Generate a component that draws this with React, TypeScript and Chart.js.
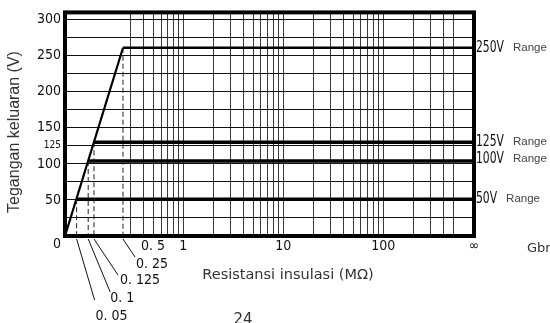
import React, { useEffect, useRef } from 'react';
import { Chart, registerables, LinearScale } from 'chart.js';

// ---------------- data ----------------
const yGridValues = [0, 25, 50, 75, 100, 125, 150, 175, 200, 225, 250, 275, 300];
const yTickLabels = [0, 50, 100, 125, 150, 200, 250, 300];
const yMax = 310;

const xGridValues = [
  0.3, 0.4, 0.5, 0.6, 0.7, 0.8, 0.9,
  1, 2, 3, 4, 5, 6, 7, 8, 9,
  10, 20, 30, 40, 50, 60, 70, 80, 90,
  100, 200, 300, 400, 500,
];
const xInfinity = 810; // right edge, labelled "∞"
const xTickValues = [0.5, 1, 10, 100, xInfinity];
const xTickLabels = ['0. 5', '1', '10', '100', '∞'];

const rangeNames = ['250V', '125V', '100V', '50V'];
const rangeVoltages = [261, 130, 104, 51];
const rangeKnees = [0.25, 0.125, 0.1, 0.05];
const kneeLabels = ['0. 25', '0. 125', '0. 1', '0. 05'];

const rampR = [0, 0.25];
const rampV = [0, 261];

// scale: linear from 0 to 0.25 MΩ, logarithmic beyond
const LINEAR_END = 0.25;
const LINEAR_SLOPE = 2.32; // decades per MΩ in the linear part

const U0 = Math.log10(LINEAR_END) - LINEAR_END * LINEAR_SLOPE;
const toU = (r: number) => (r <= LINEAR_END ? U0 + r * LINEAR_SLOPE : Math.log10(r));
const fromU = (u: number) => {
  const uJoin = Math.log10(LINEAR_END);
  return u <= uJoin ? (u - U0) / LINEAR_SLOPE : Math.pow(10, u);
};

class HybridScale extends LinearScale {
  static id = 'hybrid';
  static defaults = LinearScale.defaults;
  _hu0 = 0;
  _hu1 = 1;
  buildTicks() {
    return xGridValues.concat([xInfinity]).map((v) => ({ value: v }));
  }
  configure() {
    super.configure();
    this._hu0 = toU(this.min);
    this._hu1 = toU(this.max);
  }
  getPixelForValue(value: number) {
    if (value === null || value === undefined || isNaN(value)) return NaN;
    return this.getPixelForDecimal((toU(value) - this._hu0) / (this._hu1 - this._hu0));
  }
  getValueForPixel(pixel: number) {
    return fromU(this._hu0 + this.getDecimalForPixel(pixel) * (this._hu1 - this._hu0));
  }
}

Chart.register(...registerables, HybridScale);

// ---------------- styles ----------------
const NARROW = '"Liberation Sans Narrow", "DejaVu Sans Condensed", "Liberation Sans", sans-serif';
const SANS = '"Liberation Sans", Arial, sans-serif';
const WIDE = '"DejaVu Sans", "Noto Sans", sans-serif';

// leader line geometry (relative to tick pixel / chart bottom)
const leaderEnd = [
  { dx: 12, dy: 21 },
  { dx: 24, dy: 39 },
  { dx: 22, dy: 56 },
  { dx: 18, dy: 64 },
];
const leaderText = [
  { dx: 13, dy: 28 },
  { dx: 26, dy: 44 },
  { dx: 22, dy: 62 },
  { dx: 19, dy: 80 },
];

const decorPlugin = {
  id: 'decor',
  afterDatasetsDraw(chart: any) {
    const { ctx, chartArea: a } = chart;
    ctx.save();
    ctx.strokeStyle = '#000';
    ctx.lineWidth = 4;
    ctx.strokeRect(a.left, a.top, a.right - a.left, a.bottom - a.top);
    ctx.restore();
  },
  afterDraw(chart: any) {
    const { ctx, chartArea: a } = chart;
    const xs = chart.scales.x;
    const ys = chart.scales.y;
    ctx.save();

    // leader lines + knee labels
    ctx.strokeStyle = '#111';
    ctx.lineWidth = 1;
    ctx.fillStyle = '#111';
    ctx.font = `14px ${NARROW}`;
    ctx.textAlign = 'left';
    ctx.textBaseline = 'middle';
    rangeKnees.forEach((r, i) => {
      const px = xs.getPixelForValue(r);
      ctx.beginPath();
      ctx.moveTo(px, a.bottom + 3);
      ctx.lineTo(px + leaderEnd[i].dx, a.bottom + leaderEnd[i].dy);
      ctx.stroke();
      ctx.fillText(kneeLabels[i], px + leaderText[i].dx, a.bottom + leaderText[i].dy);
    });

    // range labels on the right
    rangeNames.forEach((name, i) => {
      const py = ys.getPixelForValue(rangeVoltages[i]) - (i === 2 ? 2 : 0);
      const x0 = a.right + 2;
      ctx.save();
      ctx.translate(x0, py);
      ctx.scale(0.8, 1);
      ctx.font = `15px ${NARROW}`;
      ctx.fillStyle = '#111';
      ctx.textBaseline = 'middle';
      ctx.textAlign = 'left';
      ctx.fillText(name, 0, 0);
      const w = ctx.measureText(name).width * 0.8;
      ctx.restore();
      ctx.font = `11.5px ${SANS}`;
      ctx.fillStyle = '#444';
      ctx.textBaseline = 'middle';
      ctx.textAlign = 'left';
      ctx.fillText('Range', x0 + w + 9, py);
    });

    // y axis title
    ctx.save();
    ctx.translate(15, 132);
    ctx.rotate(-Math.PI / 2);
    ctx.font = `16px ${SANS}`;
    ctx.fillStyle = '#333';
    ctx.textAlign = 'center';
    ctx.textBaseline = 'middle';
    ctx.fillText('Tegangan keluaran (V)', 0, 0);
    ctx.restore();

    // x axis title
    ctx.font = `14.5px ${WIDE}`;
    ctx.fillStyle = '#333';
    ctx.textAlign = 'center';
    ctx.textBaseline = 'middle';
    ctx.fillText('Resistansi insulasi (MΩ)', 288, 275);

    // page bits
    ctx.font = `13px ${WIDE}`;
    ctx.textAlign = 'left';
    ctx.fillText('Gbr', 527, 249);
    ctx.font = `15px ${WIDE}`;
    ctx.textAlign = 'center';
    ctx.fillText('24', 243, 320);

    ctx.restore();
  },
};

export default function App() {
  const canvasRef = useRef<HTMLCanvasElement | null>(null);

  useEffect(() => {
    if (!canvasRef.current) return;
    const line = (data: { x: number; y: number }[], width: number, dash: number[] = [], color = '#000') => ({
      data,
      borderColor: color,
      backgroundColor: color,
      borderWidth: width,
      borderDash: dash,
      pointRadius: 0,
      tension: 0,
      fill: false,
    });

    const datasets: any[] = [];
    rangeKnees.forEach((r, i) => {
      datasets.push(line([{ x: r, y: rangeVoltages[i] }, { x: r, y: 0 }], 1, [5, 3], '#222'));
    });
    rangeKnees.forEach((r, i) => {
      datasets.push(line([{ x: r, y: rangeVoltages[i] }, { x: xInfinity, y: rangeVoltages[i] }], i === 0 ? 2.5 : 3.5));
    });
    datasets.push(line(rampR.map((r, i) => ({ x: r, y: rampV[i] })), 2.2));

    const chart = new Chart(canvasRef.current, {
      type: 'line',
      data: { datasets },
      options: {
        animation: false,
        responsive: false,
        devicePixelRatio: 1,
        events: [],
        layout: { padding: { left: 0, top: 10, right: 76, bottom: 0 } },
        plugins: {
          legend: { display: false },
          tooltip: { enabled: false },
          title: { display: false },
        },
        scales: {
          x: {
            type: 'hybrid' as any,
            min: 0,
            max: xInfinity,
            afterFit: (s: any) => {
              s.height = 87;
            },
            border: { display: false },
            grid: { color: '#3a3a3a', lineWidth: 1, drawTicks: false },
            ticks: {
              autoSkip: false,
              maxRotation: 0,
              minRotation: 0,
              padding: 2,
              color: '#111',
              font: { family: NARROW, size: 14 },
              callback: (v: any) => {
                const i = xTickValues.indexOf(Number(v));
                return i >= 0 ? xTickLabels[i] : '';
              },
            },
          },
          y: {
            type: 'linear',
            min: 0,
            max: yMax,
            afterFit: (s: any) => {
              s.width = 65;
            },
            afterBuildTicks: (s: any) => {
              s.ticks = yGridValues.map((v) => ({ value: v }));
            },
            border: { display: false },
            grid: { color: '#111', lineWidth: 1, drawTicks: false },
            ticks: {
              autoSkip: false,
              padding: 4,
              color: '#111',
              font: (c: any) =>
                c.tick && c.tick.value === 125
                  ? { family: NARROW, size: 10 }
                  : { family: NARROW, size: 14 },
              callback: (v: any) => {
                const n = Number(v);
                if (n === 0) return ['', '0'];
                return yTickLabels.includes(n) ? String(n) : '';
              },
            },
          },
        },
      },
      plugins: [decorPlugin],
    });
    return () => chart.destroy();
  }, []);

  return (
    <div style={{ position: 'fixed', left: 0, top: 0, width: 550, height: 323, background: '#fff' }}>
      <canvas ref={canvasRef} width={550} height={323} style={{ display: 'block' }} />
    </div>
  );
}
